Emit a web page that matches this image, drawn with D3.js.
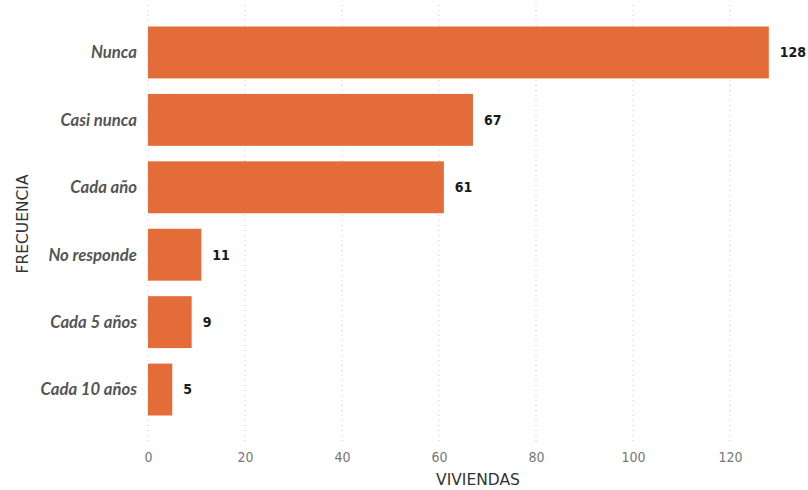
<!DOCTYPE html>
<html><head><meta charset="utf-8">
<script src="https://cdn.jsdelivr.net/npm/d3@7"></script>
<style>body{margin:0;background:#fff}svg{display:block}</style>
</head><body>
<svg id="c" width="808" height="490"></svg>
<script>
const categories = ["Nunca","Casi nunca","Cada año","No responde","Cada 5 años","Cada 10 años"];
const values = [128,67,61,11,9,5];
const xTicks = [0,20,40,60,80,100,120];
const xTitle = "VIVIENDAS";
const yTitle = "FRECUENCIA";

const svg = d3.select("#c");
const x = d3.scaleLinear().domain([0,120]).range([148,730]);
const y = d3.scaleBand().domain(categories).range([11,431]).paddingInner(0.23).paddingOuter(0.23);

// grid
svg.append("g").selectAll("line").data(xTicks).join("line")
  .attr("x1",d=>x(d)).attr("x2",d=>x(d)).attr("y1",5).attr("y2",442)
  .attr("stroke","#c8c8c8").attr("stroke-width",1).attr("stroke-dasharray","1,4");

// bars
svg.append("g").selectAll("rect").data(values).join("rect")
  .attr("x",x(0)).attr("y",(d,i)=>y(categories[i]))
  .attr("width",d=>x(d)-x(0)).attr("height",y.bandwidth())
  .attr("fill","#E46C39");

// value labels
svg.append("g").selectAll("text").data(values).join("text")
  .attr("x",d=>x(d)+11).attr("y",(d,i)=>y(categories[i])+y.bandwidth()/2)
  .attr("dy","0.35em").text(d=>d)
  .attr("font-family","'DejaVu Sans Condensed','DejaVu Sans',sans-serif").attr("font-weight","bold")
  .attr("font-size",14).attr("fill","#1a1a1a");

// category labels
svg.append("g").selectAll("text").data(categories).join("text")
  .attr("x",137).attr("y",d=>y(d)+y.bandwidth()/2).attr("dy","0.35em")
  .attr("text-anchor","end").text(d=>d)
  .attr("font-family","Lato, 'Open Sans', sans-serif").attr("font-style","italic").attr("font-weight","bold")
  .attr("font-size",16.7).attr("fill","#555");

// x axis ticks
const xa = svg.append("g").attr("transform","translate(0,452)")
  .call(d3.axisBottom(x).tickValues(xTicks).tickSize(0).tickPadding(0));
xa.select(".domain").remove();
xa.selectAll("text").attr("font-family","'DejaVu Sans Condensed','DejaVu Sans',sans-serif")
  .attr("font-size",14).attr("fill","#777");

// titles
svg.append("text").attr("x",478).attr("y",485).attr("text-anchor","middle").text(xTitle)
  .attr("font-family","'DejaVu Sans',sans-serif").attr("font-size",15.5).attr("fill","#333");
svg.append("text").attr("transform","translate(28,224) rotate(-90)").attr("text-anchor","middle").text(yTitle)
  .attr("font-family","'DejaVu Sans',sans-serif").attr("font-size",15.5).attr("fill","#333");
</script>
</body></html>
